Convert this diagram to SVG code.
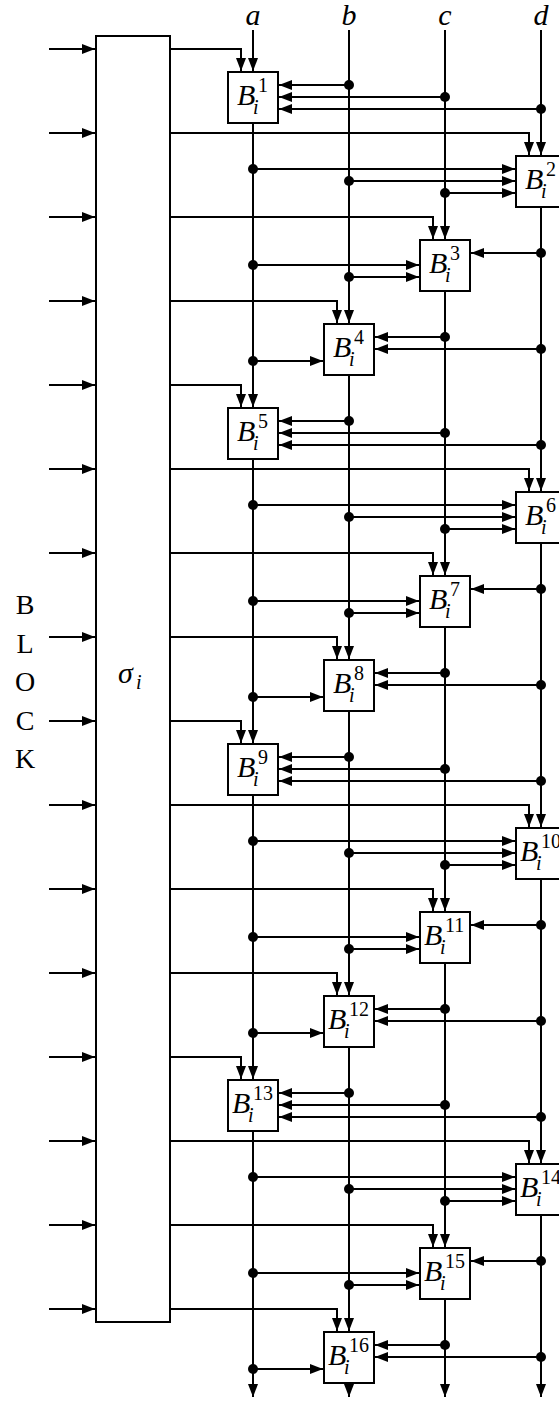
<svg xmlns="http://www.w3.org/2000/svg" width="559" height="1401" viewBox="0 0 559 1401">
<style>
.ln{fill:none;stroke:#000;stroke-width:2}
.ar{marker-end:url(#ah)}
.box{fill:#fff;stroke:#000;stroke-width:2}
.dot{fill:#000}
.mi{font-family:"Liberation Serif",serif;font-style:italic;font-size:30px;fill:#000}
.rm{font-family:"Liberation Serif",serif;font-size:28px;fill:#000;text-anchor:middle}
.sup{font-family:"Liberation Serif",serif;font-style:normal;font-size:20px}
.sub{font-family:"Liberation Serif",serif;font-style:italic;font-size:20px}
.col{font-family:"Liberation Serif",serif;font-style:italic;font-size:30px;text-anchor:middle;fill:#000}
</style>
<defs>
<marker id="ah" markerUnits="userSpaceOnUse" viewBox="0 0 13 10" refX="13" refY="5" markerWidth="13" markerHeight="10" orient="auto">
<path d="M0,0 L13,5 L0,10 z" fill="#000"/>
</marker>
</defs>
<g id="labels">
<text class="col" x="253" y="25">a</text>
<text class="col" x="349" y="25">b</text>
<text class="col" x="445" y="25">c</text>
<text class="col" x="541" y="25">d</text>
<text class="rm" x="25" y="614">B</text>
<text class="rm" x="25" y="652.5">L</text>
<text class="rm" x="25" y="691">O</text>
<text class="rm" x="25" y="729.5">C</text>
<text class="rm" x="25" y="768">K</text>
</g>
<g id="connectors">
<path class="ln ar" d="M49 49H95"/><path class="ln ar" d="M49 133H95"/><path class="ln ar" d="M49 217H95"/><path class="ln ar" d="M49 301H95"/>
<path class="ln ar" d="M49 385H95"/><path class="ln ar" d="M49 469H95"/><path class="ln ar" d="M49 553H95"/><path class="ln ar" d="M49 637H95"/>
<path class="ln ar" d="M49 721H95"/><path class="ln ar" d="M49 805H95"/><path class="ln ar" d="M49 889H95"/><path class="ln ar" d="M49 973H95"/>
<path class="ln ar" d="M49 1057H95"/><path class="ln ar" d="M49 1141H95"/><path class="ln ar" d="M49 1225H95"/><path class="ln ar" d="M49 1309H95"/>
<path class="ln ar" d="M170 49H241V71"/>
<path class="ln ar" d="M170 133H529V155"/>
<path class="ln ar" d="M170 217H433V239"/>
<path class="ln ar" d="M170 301H337V323"/>
<path class="ln ar" d="M170 385H241V407"/>
<path class="ln ar" d="M170 469H529V491"/>
<path class="ln ar" d="M170 553H433V575"/>
<path class="ln ar" d="M170 637H337V659"/>
<path class="ln ar" d="M170 721H241V743"/>
<path class="ln ar" d="M170 805H529V827"/>
<path class="ln ar" d="M170 889H433V911"/>
<path class="ln ar" d="M170 973H337V995"/>
<path class="ln ar" d="M170 1057H241V1079"/>
<path class="ln ar" d="M170 1141H529V1163"/>
<path class="ln ar" d="M170 1225H433V1247"/>
<path class="ln ar" d="M170 1309H337V1331"/>
<path class="ln ar" d="M253 30V71"/><path class="ln ar" d="M253 123V407"/><path class="ln ar" d="M253 459V743"/><path class="ln ar" d="M253 795V1079"/><path class="ln ar" d="M253 1131V1397"/>
<path class="ln ar" d="M349 30V323"/><path class="ln ar" d="M349 375V659"/><path class="ln ar" d="M349 711V995"/><path class="ln ar" d="M349 1047V1331"/><path class="ln ar" d="M349 1383V1397"/>
<path class="ln ar" d="M445 30V239"/><path class="ln ar" d="M445 291V575"/><path class="ln ar" d="M445 627V911"/><path class="ln ar" d="M445 963V1247"/><path class="ln ar" d="M445 1299V1397"/>
<path class="ln ar" d="M541 30V155"/><path class="ln ar" d="M541 207V491"/><path class="ln ar" d="M541 543V827"/><path class="ln ar" d="M541 879V1163"/><path class="ln ar" d="M541 1215V1397"/>
<path class="ln ar" d="M349 85H279"/><path class="ln ar" d="M445 97H279"/><path class="ln ar" d="M541 109H279"/>
<path class="ln ar" d="M253 169H515"/><path class="ln ar" d="M349 181H515"/><path class="ln ar" d="M445 193H515"/>
<path class="ln ar" d="M541 253H471"/><path class="ln ar" d="M253 265H419"/><path class="ln ar" d="M349 277H419"/>
<path class="ln ar" d="M445 337H375"/><path class="ln ar" d="M541 349H375"/><path class="ln ar" d="M253 361H323"/>
<path class="ln ar" d="M349 421H279"/><path class="ln ar" d="M445 433H279"/><path class="ln ar" d="M541 445H279"/>
<path class="ln ar" d="M253 505H515"/><path class="ln ar" d="M349 517H515"/><path class="ln ar" d="M445 529H515"/>
<path class="ln ar" d="M541 589H471"/><path class="ln ar" d="M253 601H419"/><path class="ln ar" d="M349 613H419"/>
<path class="ln ar" d="M445 673H375"/><path class="ln ar" d="M541 685H375"/><path class="ln ar" d="M253 697H323"/>
<path class="ln ar" d="M349 757H279"/><path class="ln ar" d="M445 769H279"/><path class="ln ar" d="M541 781H279"/>
<path class="ln ar" d="M253 841H515"/><path class="ln ar" d="M349 853H515"/><path class="ln ar" d="M445 865H515"/>
<path class="ln ar" d="M541 925H471"/><path class="ln ar" d="M253 937H419"/><path class="ln ar" d="M349 949H419"/>
<path class="ln ar" d="M445 1009H375"/><path class="ln ar" d="M541 1021H375"/><path class="ln ar" d="M253 1033H323"/>
<path class="ln ar" d="M349 1093H279"/><path class="ln ar" d="M445 1105H279"/><path class="ln ar" d="M541 1117H279"/>
<path class="ln ar" d="M253 1177H515"/><path class="ln ar" d="M349 1189H515"/><path class="ln ar" d="M445 1201H515"/>
<path class="ln ar" d="M541 1261H471"/><path class="ln ar" d="M253 1273H419"/><path class="ln ar" d="M349 1285H419"/>
<path class="ln ar" d="M445 1345H375"/><path class="ln ar" d="M541 1357H375"/><path class="ln ar" d="M253 1369H323"/>
<circle class="dot" cx="349" cy="85" r="5"/><circle class="dot" cx="445" cy="97" r="5"/><circle class="dot" cx="541" cy="109" r="5"/>
<circle class="dot" cx="253" cy="169" r="5"/><circle class="dot" cx="349" cy="181" r="5"/><circle class="dot" cx="445" cy="193" r="5"/>
<circle class="dot" cx="541" cy="253" r="5"/><circle class="dot" cx="253" cy="265" r="5"/><circle class="dot" cx="349" cy="277" r="5"/>
<circle class="dot" cx="445" cy="337" r="5"/><circle class="dot" cx="541" cy="349" r="5"/><circle class="dot" cx="253" cy="361" r="5"/>
<circle class="dot" cx="349" cy="421" r="5"/><circle class="dot" cx="445" cy="433" r="5"/><circle class="dot" cx="541" cy="445" r="5"/>
<circle class="dot" cx="253" cy="505" r="5"/><circle class="dot" cx="349" cy="517" r="5"/><circle class="dot" cx="445" cy="529" r="5"/>
<circle class="dot" cx="541" cy="589" r="5"/><circle class="dot" cx="253" cy="601" r="5"/><circle class="dot" cx="349" cy="613" r="5"/>
<circle class="dot" cx="445" cy="673" r="5"/><circle class="dot" cx="541" cy="685" r="5"/><circle class="dot" cx="253" cy="697" r="5"/>
<circle class="dot" cx="349" cy="757" r="5"/><circle class="dot" cx="445" cy="769" r="5"/><circle class="dot" cx="541" cy="781" r="5"/>
<circle class="dot" cx="253" cy="841" r="5"/><circle class="dot" cx="349" cy="853" r="5"/><circle class="dot" cx="445" cy="865" r="5"/>
<circle class="dot" cx="541" cy="925" r="5"/><circle class="dot" cx="253" cy="937" r="5"/><circle class="dot" cx="349" cy="949" r="5"/>
<circle class="dot" cx="445" cy="1009" r="5"/><circle class="dot" cx="541" cy="1021" r="5"/><circle class="dot" cx="253" cy="1033" r="5"/>
<circle class="dot" cx="349" cy="1093" r="5"/><circle class="dot" cx="445" cy="1105" r="5"/><circle class="dot" cx="541" cy="1117" r="5"/>
<circle class="dot" cx="253" cy="1177" r="5"/><circle class="dot" cx="349" cy="1189" r="5"/><circle class="dot" cx="445" cy="1201" r="5"/>
<circle class="dot" cx="541" cy="1261" r="5"/><circle class="dot" cx="253" cy="1273" r="5"/><circle class="dot" cx="349" cy="1285" r="5"/>
<circle class="dot" cx="445" cy="1345" r="5"/><circle class="dot" cx="541" cy="1357" r="5"/><circle class="dot" cx="253" cy="1369" r="5"/>
</g>
<g id="sigma">
<rect class="box" x="96" y="36" width="74" height="1286"/>
<text class="mi"><tspan x="118" y="683">σ</tspan><tspan class="sub" x="136" y="689">i</tspan></text>
</g>
<g id="B1"><rect class="box" x="228" y="72" width="50" height="51"/><text class="mi"><tspan x="237" y="105">B</tspan><tspan class="sup" x="258" y="92">1</tspan><tspan class="sub" x="253" y="114">i</tspan></text></g>
<g id="B2"><rect class="box" x="516" y="156" width="50" height="51"/><text class="mi"><tspan x="525" y="189">B</tspan><tspan class="sup" x="546" y="176">2</tspan><tspan class="sub" x="541" y="198">i</tspan></text></g>
<g id="B3"><rect class="box" x="420" y="240" width="50" height="51"/><text class="mi"><tspan x="429" y="273">B</tspan><tspan class="sup" x="450" y="260">3</tspan><tspan class="sub" x="445" y="282">i</tspan></text></g>
<g id="B4"><rect class="box" x="324" y="324" width="50" height="51"/><text class="mi"><tspan x="333" y="357">B</tspan><tspan class="sup" x="354" y="344">4</tspan><tspan class="sub" x="349" y="366">i</tspan></text></g>
<g id="B5"><rect class="box" x="228" y="408" width="50" height="51"/><text class="mi"><tspan x="237" y="441">B</tspan><tspan class="sup" x="258" y="428">5</tspan><tspan class="sub" x="253" y="450">i</tspan></text></g>
<g id="B6"><rect class="box" x="516" y="492" width="50" height="51"/><text class="mi"><tspan x="525" y="525">B</tspan><tspan class="sup" x="546" y="512">6</tspan><tspan class="sub" x="541" y="534">i</tspan></text></g>
<g id="B7"><rect class="box" x="420" y="576" width="50" height="51"/><text class="mi"><tspan x="429" y="609">B</tspan><tspan class="sup" x="450" y="596">7</tspan><tspan class="sub" x="445" y="618">i</tspan></text></g>
<g id="B8"><rect class="box" x="324" y="660" width="50" height="51"/><text class="mi"><tspan x="333" y="693">B</tspan><tspan class="sup" x="354" y="680">8</tspan><tspan class="sub" x="349" y="702">i</tspan></text></g>
<g id="B9"><rect class="box" x="228" y="744" width="50" height="51"/><text class="mi"><tspan x="237" y="777">B</tspan><tspan class="sup" x="258" y="764">9</tspan><tspan class="sub" x="253" y="786">i</tspan></text></g>
<g id="B10"><rect class="box" x="516" y="828" width="50" height="51"/><text class="mi"><tspan x="520" y="861">B</tspan><tspan class="sup" x="541" y="848">10</tspan><tspan class="sub" x="536" y="870">i</tspan></text></g>
<g id="B11"><rect class="box" x="420" y="912" width="50" height="51"/><text class="mi"><tspan x="424" y="945">B</tspan><tspan class="sup" x="445" y="932">11</tspan><tspan class="sub" x="440" y="954">i</tspan></text></g>
<g id="B12"><rect class="box" x="324" y="996" width="50" height="51"/><text class="mi"><tspan x="328" y="1029">B</tspan><tspan class="sup" x="349" y="1016">12</tspan><tspan class="sub" x="344" y="1038">i</tspan></text></g>
<g id="B13"><rect class="box" x="228" y="1080" width="50" height="51"/><text class="mi"><tspan x="232" y="1113">B</tspan><tspan class="sup" x="253" y="1100">13</tspan><tspan class="sub" x="248" y="1122">i</tspan></text></g>
<g id="B14"><rect class="box" x="516" y="1164" width="50" height="51"/><text class="mi"><tspan x="520" y="1197">B</tspan><tspan class="sup" x="541" y="1184">14</tspan><tspan class="sub" x="536" y="1206">i</tspan></text></g>
<g id="B15"><rect class="box" x="420" y="1248" width="50" height="51"/><text class="mi"><tspan x="424" y="1281">B</tspan><tspan class="sup" x="445" y="1268">15</tspan><tspan class="sub" x="440" y="1290">i</tspan></text></g>
<g id="B16"><rect class="box" x="324" y="1332" width="50" height="51"/><text class="mi"><tspan x="328" y="1365">B</tspan><tspan class="sup" x="349" y="1352">16</tspan><tspan class="sub" x="344" y="1374">i</tspan></text></g>
</svg>
